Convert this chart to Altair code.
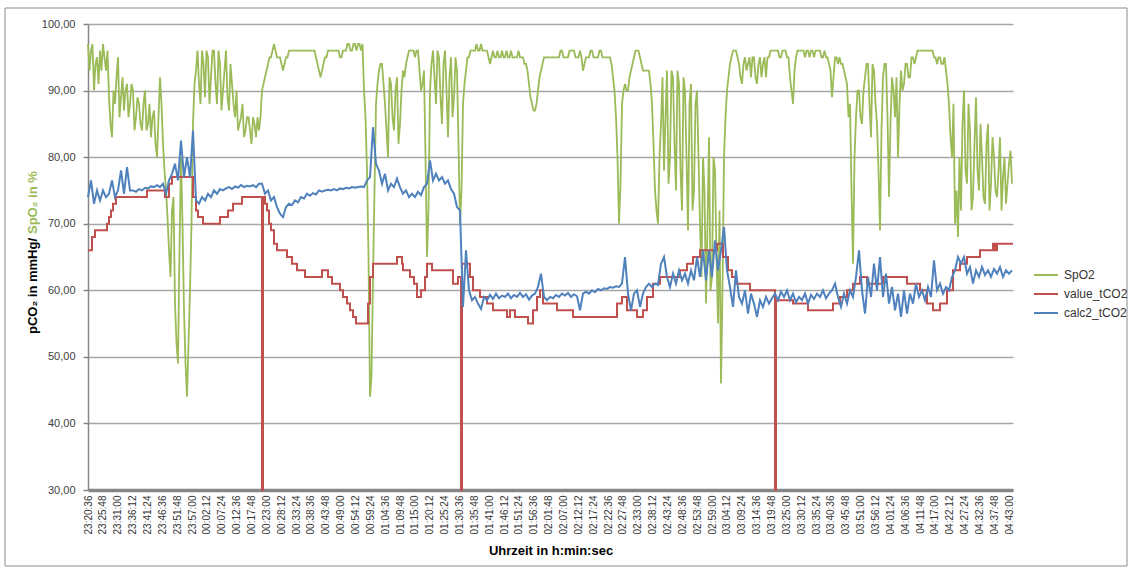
import altair as alt
import pandas as pd

# ---------------- data ----------------
START_CLOCK_S = 23 * 3600 + 20 * 60 + 36   # 23:20:36
SAMPLE_STEP_S = 63                          # seconds between samples of SpO2 / calc2_tCO2
TICK_STEP_S = 312                           # 5:12 between category labels
N_TICKS = 63
X_MAX_S = 19425

SERIES = ["SpO2", "value_tCO2", "calc2_tCO2"]
COLORS = ["#9BBB59", "#C0504D", "#4F81BD"]
Y_TICKS = [30, 40, 50, 60, 70, 80, 90, 100]

# SpO2 on the full sample grid
SPO2 = [
    97, 96, 90, 95, 96, 97, 93, 89, 83, 88,
    95, 89, 87, 91, 88, 90, 86, 88, 84, 90,
    85, 83, 87, 80, 92, 82, 75, 66, 72, 58,
    49, 80, 57, 44, 60, 85, 93, 91, 96, 89,
    95, 92, 96, 88, 94, 90, 96, 87, 91, 86,
    84, 86, 83, 86, 84, 86, 83, 84, 90, 92,
    94, 95, 97, 95, 95, 93, 95, 96, 96, 96,
    96, 96, 96, 96, 96, 96, 95, 93, 93, 95,
    96, 96, 96, 96, 95, 96, 96, 97, 96, 97,
    97, 96, 90, 78, 44, 62, 88, 93, 94, 88,
    80, 91, 84, 92, 85, 93, 94, 96, 96, 95,
    96, 90, 93, 65, 90, 96, 88, 95, 85, 96,
    83, 95, 89, 93, 70, 88, 93, 95, 96, 96,
    96, 97, 96, 96, 94, 96, 95, 95, 96, 95,
    95, 96, 95, 95, 95, 95, 94, 91, 88, 87,
    90, 93, 95, 95, 95, 95, 95, 95, 96, 95,
    95, 96, 96, 95, 96, 93, 95, 95, 96, 95,
    95, 96, 95, 95, 95, 92, 86, 70, 88, 91,
    90, 93, 95, 96, 95, 93, 93, 93, 88, 75,
    70, 85, 78, 93, 80, 92, 75, 91, 72, 90,
    69, 91, 75, 90, 70, 80, 58, 83, 62, 78,
    55, 46, 80, 90, 94, 96, 96, 94, 91, 95,
    94, 92, 95, 91, 95, 94, 92, 95, 96, 96,
    96, 95, 96, 95, 92, 88, 95, 96, 96, 95,
    96, 96, 95, 96, 96, 95, 95, 94, 89, 95,
    94, 94, 93, 91, 88, 64, 86, 90, 85, 92,
    94, 83, 93, 85, 69, 92, 94, 74, 92, 86,
    80, 93, 91, 94, 92, 95, 95, 96, 96, 96,
    96, 96, 95, 94, 95, 94, 93, 88, 80, 70,
    68, 72, 90, 76, 84, 74, 89, 75, 80, 73,
    85, 76, 80, 74, 83, 77, 73, 79, 76,
]
# SpO2 readings half-way between the grid samples
SPO2_MID = [
    93, 97, 94, 91, 93, 95, 96, 85, 90, 92,
    86, 92, 90, 86, 91, 84, 89, 85, 88, 84,
    88, 86, 82, 86, 88, 78, 71, 62, 74, 52,
    66, 70, 49, 52, 70, 91, 96, 88, 94, 96,
    88, 96, 91, 96, 87, 93, 89, 94, 88, 90,
    85, 88, 84, 86, 82, 85, 86, 86, 91, 93,
    95, 96, 96, 95, 94, 94, 95, 96, 96, 96,
    96, 96, 96, 96, 96, 96, 94, 92, 94, 95,
    96, 96, 96, 96, 95, 96, 97, 96, 97, 96,
    97, 97, 86, 65, 47, 75, 91, 94, 91, 84,
    92, 86, 90, 82, 90, 92, 95, 96, 96, 96,
    93, 91, 80, 72, 94, 92, 96, 89, 94, 90,
    92, 86, 95, 82, 75, 91, 95, 96, 96, 97,
    96, 96, 96, 95, 95, 95, 96, 95, 95, 96,
    95, 95, 95, 96, 95, 94, 93, 89, 87, 88,
    92, 94, 95, 95, 95, 95, 95, 96, 95, 95,
    96, 96, 95, 95, 95, 94, 95, 96, 95, 95,
    96, 95, 95, 95, 94, 90, 80, 76, 90, 90,
    92, 94, 96, 96, 94, 93, 93, 91, 82, 72,
    80, 92, 86, 76, 93, 82, 93, 78, 92, 80,
    88, 72, 88, 80, 62, 75, 70, 60, 80, 65,
    72, 60, 86, 92, 95, 96, 95, 92, 94, 93,
    95, 95, 92, 94, 92, 95, 95, 96, 96, 96,
    95, 96, 96, 95, 90, 93, 96, 96, 96, 96,
    95, 96, 96, 96, 95, 96, 95, 93, 92, 95,
    95, 94, 92, 86, 75, 80, 90, 86, 90, 94,
    88, 94, 88, 78, 84, 94, 86, 85, 90, 92,
    88, 90, 94, 92, 95, 94, 96, 96, 96, 96,
    96, 96, 95, 95, 94, 95, 91, 83, 88, 75,
    80, 85, 78, 88, 72, 82, 78, 85, 74, 82,
    72, 83, 75, 78, 72, 80, 76, 81,
]

CALC2_TCO2 = [
    74, 76.5, 73, 75, 73.5, 75, 74, 74.5, 76.5, 74,
    75, 78, 74.5, 78.5, 75, 75, 74.8, 75.2, 75, 75.4,
    75.3, 75.6, 75.5, 75.8, 75.5, 76, 74.5, 76.5, 77.5, 79,
    76.5, 82.5, 77, 80, 77, 84, 73.5, 73, 74, 73.5,
    74.5, 74, 75, 74.5, 75.2, 75, 75.3, 75.5, 75.2, 75.6,
    75.4, 75.8, 75.5, 75.7, 75.6, 75.8, 75.5, 76, 76, 74.5,
    75, 73.5, 74, 72.5, 71.5, 71, 72.5, 73, 72.8, 73.5,
    73.2, 74, 73.8, 74.5, 74.2, 74.6, 74.4, 75, 74.8, 75,
    75.1, 75, 75.2, 75, 75.3, 75.2, 75.4, 75.3, 75.5, 75.4,
    75.5, 75.6, 75.5, 76.5, 77, 84.5, 79, 78, 76, 77.5,
    75, 76, 75.5, 76.8, 75.5, 74.5, 75, 74, 74.5, 74,
    74.8, 74.3, 75.5, 76, 79.5, 76.5, 77.5, 76.5, 77, 76,
    76.5, 75.2, 74.5, 72.5, 72, 57.5, 66, 60, 58.5, 59,
    58, 57.2, 59, 58.5, 59.3, 58.7, 59.5, 58.8, 59.2, 59,
    59.5, 58.8, 59.3, 59, 59.6, 59, 59.4, 58.6, 59.2, 59.5,
    60.5, 62.5, 59, 58.5, 59, 58.8, 59.3, 59, 59.5, 59.2,
    59.6, 59, 59.4, 59.1, 57, 59.5, 59.8, 59.5, 60, 59.7,
    60.2, 60, 60.3, 60.2, 60.5, 60.4, 60.6, 60.5, 61, 65,
    59.5, 57, 59.5, 60, 57.5, 59.5, 60.5, 61, 60.5, 61,
    60.8, 64, 65, 62, 60.5, 62.5, 61, 63, 61.5, 62.5,
    61, 63, 61.5, 65, 62, 66, 61.5, 66, 62, 67.5,
    63, 66, 69.5, 63, 60.5, 57.5, 63, 59, 58, 60,
    56.5, 59.5, 58, 56, 58.5, 57.5, 59, 58, 58.8, 59.5,
    58.5, 59.8, 59, 60, 58.5, 59.5, 58.2, 59, 58.5, 59.5,
    58, 59.3, 58.7, 59.5, 59, 60, 58.8, 59.5, 60, 61,
    59, 57.5, 59.5, 58, 60, 59, 62, 66, 60, 56.5,
    62, 59, 64, 60, 65, 59, 62.5, 58, 60.5, 57,
    59.5, 56, 60, 56.5, 59.5, 58, 61, 59, 60, 58.5,
    60.5, 59, 64.5, 60, 61, 59.5, 60.5, 60, 62, 63,
    65, 64, 65, 62.5, 63.5, 61, 63, 62, 63.5, 62.3,
    63, 62, 63.2, 62.5, 63.5, 62, 63, 62.5, 63,
]

# value_tCO2 is a stepped series: seconds after 23:20:36 where the value changes, and the new value
VALUE_TCO2_T = [
    0, 84, 147, 399, 441, 483, 525, 588, 1239, 1617, 1701, 1764, 2205, 2268, 2310, 2415,
    2772, 2940, 3045, 3234, 3654, 3675, 3717, 3759, 3801, 3843, 3906, 3969, 4179, 4284,
    4389, 4557, 4914, 5040, 5124, 5292, 5355, 5439, 5502, 5565, 5628, 5880, 5922, 5985,
    6489, 6594, 6615, 6762, 6846, 6909, 6993, 7077, 7119, 7224, 7665, 7770, 7833, 7854,
    8022, 8085, 8232, 8379, 8505, 8799, 8862, 8967, 9240, 9345, 9429, 9492, 9555, 9849,
    10185, 11109, 11214, 11319, 11529, 11655, 11739, 11865, 12012, 12432, 12579, 12705,
    12852, 13209, 13335, 13440, 13524, 13608, 13902, 14427, 14448, 14805, 15120, 15645,
    15792, 15939, 16065, 16212, 16359, 16695, 17199, 17472, 17619, 17745, 17892, 18039,
    18165, 18312, 18459, 18732, 19005, 19047, 19089, 19425,
]
VALUE_TCO2 = [
    66, 68, 69, 70, 71, 72, 73, 74, 75, 74, 76, 77, 74, 72, 71, 70,
    71, 72, 73, 74, 30, 74, 73, 72, 70, 69, 67, 66, 65, 64,
    63, 62, 63, 62, 61, 60, 59, 58, 57, 56, 55, 58, 62, 64,
    65, 64, 63, 62, 61, 59, 60, 62, 64, 63, 61, 62, 30, 64,
    62, 60, 59, 58, 57, 56, 57, 56, 55, 57, 59, 60, 58, 57,
    56, 58, 59, 57, 56, 57, 59, 61, 62, 63, 64, 65,
    66, 67, 65, 63, 62, 61, 60, 30, 58.5, 58, 57, 58,
    59, 60, 61, 62, 61, 62, 61, 60, 58, 57, 58, 60,
    63, 64, 65, 66, 67, 66, 67, 67,
]

# ---------------- tables ----------------
spo2_t = [i * SAMPLE_STEP_S for i in range(len(SPO2))] + \
         [j * SAMPLE_STEP_S + SAMPLE_STEP_S / 2 for j in range(len(SPO2_MID))]
df_spo2 = pd.DataFrame({"t": spo2_t, "v": SPO2 + SPO2_MID, "series": "SpO2"}).sort_values("t")
df_calc = pd.DataFrame({"t": [i * SAMPLE_STEP_S for i in range(len(CALC2_TCO2))],
                        "v": CALC2_TCO2, "series": "calc2_tCO2"})
df_val = pd.DataFrame({"t": VALUE_TCO2_T, "v": VALUE_TCO2, "series": "value_tCO2"})

x_ticks = [i * TICK_STEP_S for i in range(N_TICKS)]

FONT = "Liberation Sans"
W, H = 925, 466

x_enc = alt.X(
    "t:Q",
    scale=alt.Scale(domain=[0, X_MAX_S], nice=False, zero=False),
    axis=alt.Axis(
        values=x_ticks,
        labelExpr=f"utcFormat((datum.value + {START_CLOCK_S}) * 1000, '%H:%M:%S')",
        labelAngle=270, labelOverlap=False, labelFlush=False, labelBound=False,
        labelFontSize=10, labelColor="#333333", labelPadding=5,
        ticks=False, grid=False,
        domainColor="#868686", domainWidth=3.5,
        title="Uhrzeit in h:min:sec", titleFontSize=13, titleFontWeight="bold",
        titleColor="#000000", titlePadding=11,
    ),
)
y_enc = alt.Y(
    "v:Q",
    scale=alt.Scale(domain=[30, 100], nice=False, zero=False),
    axis=alt.Axis(
        values=Y_TICKS,
        labelExpr="replace(format(datum.value, '.2f'), '.', ',')",
        title=None, grid=True, gridColor="#A6A6A6", gridWidth=1.5,
        tickSize=5, tickColor="#868686", tickWidth=1.5,
        domainColor="#868686", domainWidth=1.5,
        labelFontSize=11, labelColor="#404040", labelPadding=8,
    ),
)
color_enc = alt.Color(
    "series:N",
    scale=alt.Scale(domain=SERIES, range=COLORS),
    legend=alt.Legend(
        title=None, orient="none", legendX=945, legendY=238,
        symbolType="stroke", symbolSize=576, symbolStrokeWidth=2,
        labelFontSize=12, labelColor="#333333", labelOffset=5, rowPadding=0,
    ),
)

green = alt.Chart(df_spo2).mark_line(strokeWidth=1.8).encode(
    x=x_enc, y=y_enc, color=color_enc, order="t:Q")
red = alt.Chart(df_val).mark_line(strokeWidth=2, interpolate="step-after").encode(
    x=x_enc, y=y_enc, color=color_enc)
blue = alt.Chart(df_calc).mark_line(strokeWidth=2).encode(x=x_enc, y=y_enc, color=color_enc)

title_black = alt.Chart(pd.DataFrame({"txt": ["pCO₂ in mmHg/"]})).mark_text(
    angle=270, align="right", baseline="middle", font=FONT, fontSize=13,
    fontWeight="bold", color="#000000",
).encode(text="txt:N", x=alt.value(33 - 88), y=alt.value(238 - 24))

title_green = alt.Chart(pd.DataFrame({"txt": ["SpO₂ in %"]})).mark_text(
    angle=270, align="left", baseline="middle", font=FONT, fontSize=13,
    fontWeight="bold", color="#9BBB59",
).encode(text="txt:N", x=alt.value(33 - 88), y=alt.value(234 - 24))

border = alt.Chart(pd.DataFrame({"a": [0]})).mark_rect(
    fillOpacity=0, stroke="#8C8C8C", strokeWidth=1,
).encode(x=alt.value(-83), x2=alt.value(1039), y=alt.value(-16), y2=alt.value(542))

chart = alt.layer(border, green, red, blue, title_black, title_green).properties(
    width=W, height=H,
    padding={"left": 88, "top": 24, "right": 1132 - 88 - W, "bottom": 570 - 24 - H},
    autosize=alt.AutoSizeParams(type="none"),
    background="white",
).configure_view(strokeWidth=0).configure_axis(
    labelFont=FONT, titleFont=FONT
).configure_legend(labelFont=FONT)

chart.save("out.html", embed_options={"renderer": "svg", "actions": False})
